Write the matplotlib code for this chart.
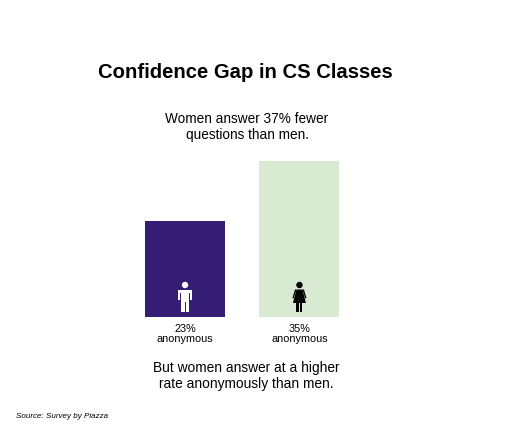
import matplotlib.pyplot as plt
import matplotlib.transforms as transforms
from matplotlib.patches import Rectangle, Circle, Polygon

# data
groups = ['Men', 'Women']
anon_pct = [23, 35]
bar_labels = ['23%\nanonymous', '35%\nanonymous']
bar_colors = ['#351c75', '#d9ead3']
icon_colors = ['white', 'black']

title = 'Confidence Gap in CS Classes'
subtitle = 'Women answer 37% fewer\nquestions than men.'
footnote = 'But women answer at a higher\nrate anonymously than men.'
source = 'Source: Survey by Piazza'

plt.rcParams['font.family'] = ['Liberation Sans', 'DejaVu Sans']

W, H = 522, 430
fig = plt.figure(figsize=(W / 100, H / 100), dpi=100)
fig.patch.set_facecolor('white')

# axes placed in pixel units
ax = fig.add_axes([145 / W, 113 / H, (339.5 - 145) / W, 156 / H])
x = list(range(len(groups)))
ax.bar(x, anon_pct, width=0.7, color=bar_colors)
ax.set_xlim(-0.35, 1.35)
ax.set_ylim(3.8, 35)
ax.axis('off')


def draw_man(ax, xc, y0, color):
    tr = transforms.IdentityTransform() + transforms.ScaledTranslation(xc, y0, ax.transData)
    parts = [
        Circle((0, 32), 3.2),
        Rectangle((-4.2, 15), 8.4, 12),
        Rectangle((-7, 24.5), 14, 2.5),
        Rectangle((-7, 17.5), 2.2, 9),
        Rectangle((4.8, 17.5), 2.2, 9),
        Rectangle((-4, 5), 3.5, 11),
        Rectangle((0.5, 5), 3.5, 11),
    ]
    for p in parts:
        p.set_transform(tr)
        p.set_facecolor(color)
        p.set_edgecolor('none')
        ax.add_artist(p)
    # gaps between arms and torso
    for gx in (-4.8, 4.2):
        g = Rectangle((gx, 17.5), 0.6, 7, transform=tr, facecolor=bar_colors[0], edgecolor='none')
        ax.add_artist(g)


def draw_woman(ax, xc, y0, color):
    tr = transforms.IdentityTransform() + transforms.ScaledTranslation(xc, y0, ax.transData)
    parts = [
        Circle((0, 32), 3.2),
        Polygon([(-3, 27.5), (3, 27.5), (6.5, 14), (-6.5, 14)]),
        Polygon([(-3, 27.5), (-4.5, 27.5), (-7, 19), (-5.8, 18.5)]),
        Polygon([(3, 27.5), (4.5, 27.5), (7, 19), (5.8, 18.5)]),
        Rectangle((-3, 5), 2.2, 9.5),
        Rectangle((0.8, 5), 2.2, 9.5),
    ]
    for p in parts:
        p.set_transform(tr)
        p.set_facecolor(color)
        p.set_edgecolor('none')
        ax.add_artist(p)


ybot = ax.get_ylim()[0]
draw_man(ax, x[0], ybot, icon_colors[0])
draw_woman(ax, x[1], ybot, icon_colors[1])

for xi, lab in zip(x, bar_labels):
    ax.annotate(lab, xy=(xi, ybot), xytext=(0, -5), textcoords='offset points',
                ha='center', va='top', fontsize=7.8, linespacing=1.05,
                annotation_clip=False)

fig.text(245 / W, 1 - 73 / H, title, ha='center', va='center',
         fontsize=14.6, fontweight='bold')
fig.text(247 / W, 1 - 127 / H, subtitle, ha='center', va='center',
         fontsize=9.8, linespacing=1.1)
fig.text(246 / W, 1 - 376 / H, footnote, ha='center', va='center',
         fontsize=9.9, linespacing=1.15)
fig.text(16 / W, 1 - 416 / H, source, ha='left', va='center',
         fontsize=5.8, style='italic')

fig.savefig('out.png', dpi=100)
